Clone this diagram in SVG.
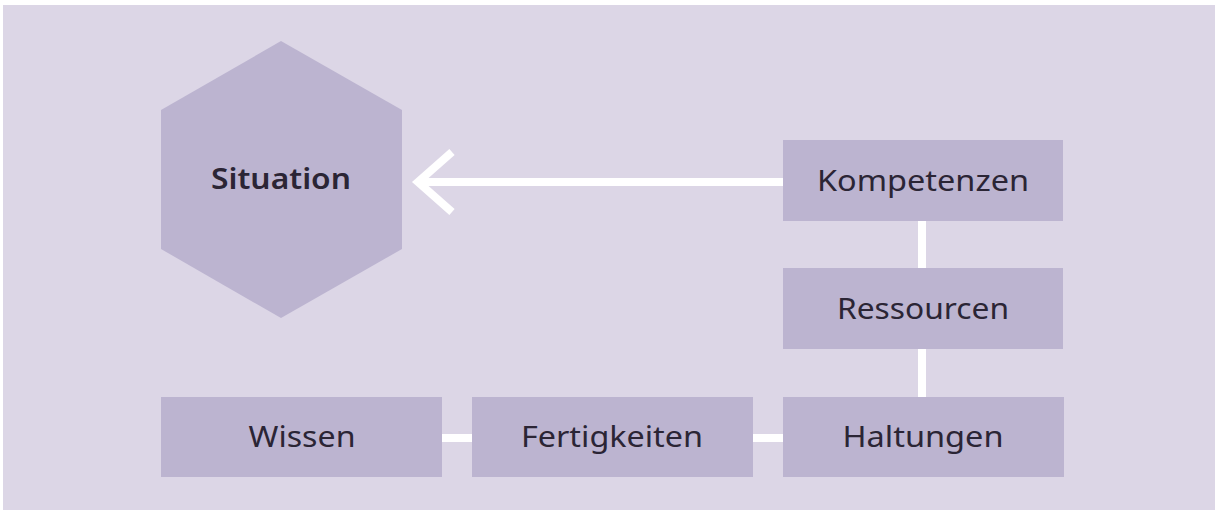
<svg xmlns="http://www.w3.org/2000/svg" width="1215" height="510" viewBox="0 0 1215 510">
<style>
.node{fill:#bcb4d0}
.lbl{font-family:"Noto Sans","Open Sans","Liberation Sans",sans-serif;font-size:29px;fill:#2b2535;text-anchor:middle}
.bold{font-weight:600}
.conn{stroke:#ffffff;stroke-width:8;fill:none}
</style>
<rect x="0" y="0" width="1215" height="510" fill="#ffffff"/>
<rect x="3" y="5" width="1212" height="505" fill="#dcd6e6"/>
<g id="connectors">
<line class="conn" x1="783" y1="182" x2="418" y2="182"/>
<polyline class="conn" points="452,152 418,182 452,212"/>
<line class="conn" x1="922" y1="221" x2="922" y2="268"/>
<line class="conn" x1="922" y1="349" x2="922" y2="397"/>
<line class="conn" x1="442" y1="438" x2="472" y2="438"/>
<line class="conn" x1="753" y1="438" x2="783" y2="438"/>
</g>
<g id="situation">
<polygon class="node" points="281,41 402,110 402,249 281,318 161,249 161,110"/>
<text class="lbl bold" x="281" y="189" textLength="140" lengthAdjust="spacingAndGlyphs">Situation</text>
</g>
<g id="kompetenzen">
<rect class="node" x="783" y="140" width="280" height="81"/>
<text class="lbl" x="923" y="191" textLength="212" lengthAdjust="spacingAndGlyphs">Kompetenzen</text>
</g>
<g id="ressourcen">
<rect class="node" x="783" y="268" width="280" height="81"/>
<text class="lbl" x="923" y="319" textLength="172" lengthAdjust="spacingAndGlyphs">Ressourcen</text>
</g>
<g id="wissen">
<rect class="node" x="161" y="397" width="281" height="80"/>
<text class="lbl" x="302" y="447" textLength="107" lengthAdjust="spacingAndGlyphs">Wissen</text>
</g>
<g id="fertigkeiten">
<rect class="node" x="472" y="397" width="281" height="80"/>
<text class="lbl" x="612" y="447" textLength="182" lengthAdjust="spacingAndGlyphs">Fertigkeiten</text>
</g>
<g id="haltungen">
<rect class="node" x="783" y="397" width="281" height="80"/>
<text class="lbl" x="923" y="447" textLength="161" lengthAdjust="spacingAndGlyphs">Haltungen</text>
</g>
</svg>
